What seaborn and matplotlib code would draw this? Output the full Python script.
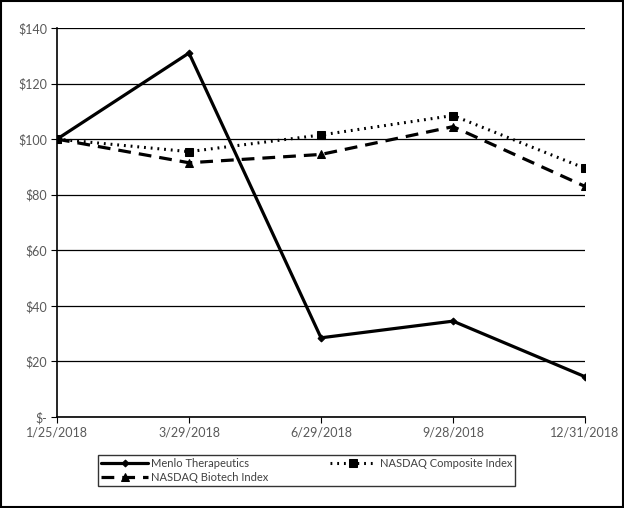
import matplotlib
matplotlib.use("Agg")
import matplotlib.pyplot as plt
import seaborn as sns
import pandas as pd
from matplotlib.patches import Rectangle

dates = ["1/25/2018", "3/29/2018", "6/29/2018", "9/28/2018", "12/31/2018"]
menlo = [100, 131, 28.5, 34.5, 14.5]
composite = [100, 95.5, 101.5, 108.5, 89.5]
biotech = [100, 91.5, 94.5, 104.5, 83]
yticks = [0, 20, 40, 60, 80, 100, 120, 140]
ylabels = ["$-", "$20", "$40", "$60", "$80", "$100", "$120", "$140"]

sns.set_style("white")
plt.rcParams['font.family'] = ['Lato', 'DejaVu Sans']

rows = []
for name, vals in [("Menlo Therapeutics", menlo), ("NASDAQ Composite Index", composite),
                   ("NASDAQ Biotech Index", biotech)]:
    for i, v in enumerate(vals):
        rows.append({"x": i, "value": v, "series": name})
df = pd.DataFrame(rows)

fig = plt.figure(figsize=(6.24, 5.08), dpi=100)
ax = fig.add_axes([57/624, 1-417/508, (585-57)/624, (417-28)/508])

styles = {
    "Menlo Therapeutics": dict(linestyle="-", marker="D", markersize=3.5, linewidth=2.3),
    "NASDAQ Composite Index": dict(linestyle=(0, (0.6, 1.6)), marker="s", markersize=5.5, linewidth=2.2),
    "NASDAQ Biotech Index": dict(linestyle=(0, (4, 2.5)), marker="^", markersize=5.5, linewidth=2.3),
}
for name in ["Menlo Therapeutics", "NASDAQ Composite Index", "NASDAQ Biotech Index"]:
    sub = df[df.series == name]
    sns.lineplot(data=sub, x="x", y="value", ax=ax, color="black", label=name,
                 markeredgecolor="black", **styles[name])

ax.set_xlim(0, 4)
ax.set_ylim(0, 140)
ax.set_yticks(yticks)
ax.set_yticklabels(ylabels)
ax.set_xticks(range(len(dates)))
ax.set_xticklabels(dates)
ax.set_xlabel("")
ax.set_ylabel("")
ax.grid(axis="y", color="black", linewidth=0.9)
ax.set_axisbelow(True)
for s in ["top", "right"]:
    ax.spines[s].set_visible(False)
for s in ["left", "bottom"]:
    ax.spines[s].set_color("black")
    ax.spines[s].set_linewidth(1.2)
ax.tick_params(axis="both", which="both", length=4, color="black", direction="out",
               labelsize=9, labelcolor="#595959", left=True, bottom=True, pad=3)

handles, labels = ax.get_legend_handles_labels()
order = [0, 2, 1]
leg = ax.legend([handles[i] for i in order], [labels[i] for i in order], ncol=2,
                loc="upper left", bbox_to_anchor=(98/624, 1-455/508), bbox_transform=fig.transFigure,
                frameon=True, fancybox=False, edgecolor="black", fontsize=8,
                handlelength=4.2, columnspacing=5.5, labelspacing=0.2, borderpad=0.3,
                borderaxespad=0, handletextpad=0.3)
leg.get_frame().set_linewidth(1.0)
for t in leg.get_texts():
    t.set_color("#404040")

fig.patches.append(Rectangle((0.001, 0.001), 0.997, 0.997, transform=fig.transFigure,
                             fill=False, edgecolor="black", linewidth=1.5))
fig.savefig("out.png", dpi=100)
